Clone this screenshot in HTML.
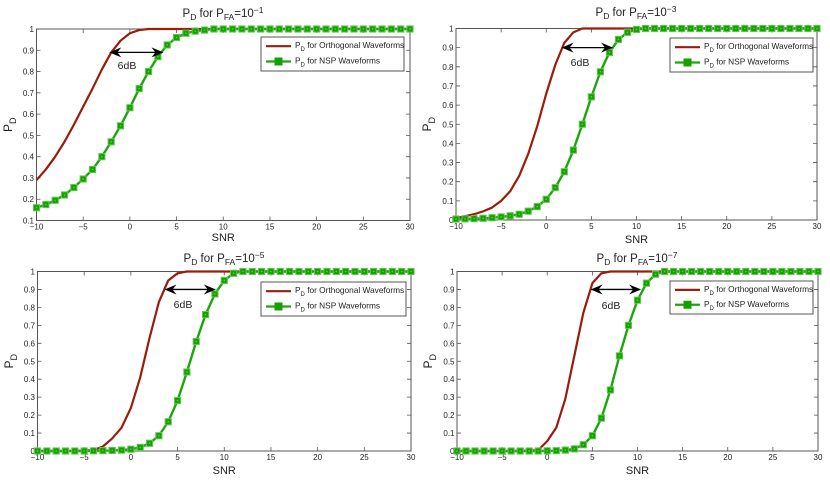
<!DOCTYPE html>
<html>
<head>
<meta charset="utf-8">
<title>PD curves</title>
<style>
html,body{margin:0;padding:0;background:#fff;width:830px;height:482px;overflow:hidden}
svg{display:block}
text{font-family:"Liberation Sans",sans-serif;fill:#222}
</style>
</head>
<body>
<svg id="chart" xmlns="http://www.w3.org/2000/svg" width="830" height="482" viewBox="0 0 830 482">
<defs><filter id="soft" x="-5%" y="-5%" width="110%" height="110%"><feGaussianBlur stdDeviation="0.35"/></filter></defs>
<g id="root" filter="url(#soft)"></g>
</svg>
<script>
const snr = [-10,-9,-8,-7,-6,-5,-4,-3,-2,-1,0,1,2,3,4,5,6,7,8,9,10,11,12,13,14,15,16,17,18,19,20,21,22,23,24,25,26,27,28,29,30];
const xTickLabels = [-10,-5,0,5,10,15,20,25,30];
const yTicksFrom01 = [0.1,0.2,0.3,0.4,0.5,0.6,0.7,0.8,0.9,1];
const yTicksFrom0 = [0,0.1,0.2,0.3,0.4,0.5,0.6,0.7,0.8,0.9,1];

const orth1 = [.29,.34,.40,.47,.55,.635,.72,.81,.89,.945,.98,.995,1,1,1,1,1,1,1,1,1,1,1,1,1,1,1,1,1,1,1,1,1,1,1,1,1,1,1,1,1];
const nsp1 = [.16,.175,.195,.22,.255,.295,.34,.40,.47,.545,.63,.72,.80,.87,.925,.96,.98,.99,.995,1,1,1,1,1,1,1,1,1,1,1,1,1,1,1,1,1,1,1,1,1,1];
const orth2 = [.01,.02,.03,.045,.065,.10,.15,.23,.345,.49,.66,.81,.925,.98,1,1,1,1,1,1,1,1,1,1,1,1,1,1,1,1,1,1,1,1,1,1,1,1,1,1,1];
const nsp2 = [.005,.006,.007,.009,.012,.016,.022,.03,.046,.07,.108,.169,.252,.365,.50,.643,.774,.875,.943,.98,.995,1,1,1,1,1,1,1,1,1,1,1,1,1,1,1,1,1,1,1,1];
const orth3 = [0,0,0,0,0,.002,.005,.025,.07,.13,.24,.41,.63,.83,.95,.99,1,1,1,1,1,1,1,1,1,1,1,1,1,1,1,1,1,1,1,1,1,1,1,1,1];
const nsp3 = [0,0,0,0,0,0,.001,.002,.003,.005,.01,.02,.043,.085,.163,.281,.44,.61,.76,.875,.95,.99,1,1,1,1,1,1,1,1,1,1,1,1,1,1,1,1,1,1,1];
const orth4 = [0,0,0,0,0,0,0,0,.002,.005,.055,.13,.29,.53,.77,.935,.99,1,1,1,1,1,1,1,1,1,1,1,1,1,1,1,1,1,1,1,1,1,1,1,1];
const nsp4 = [0,0,0,0,0,0,0,0,0,0,.001,.002,.005,.012,.035,.085,.183,.34,.53,.70,.84,.935,.985,1,1,1,1,1,1,1,1,1,1,1,1,1,1,1,1,1,1];

const arrowFrom = [-2.2,1.7,3.6,4.8];
const arrowTo = [3.6,7.4,9.1,10.4];
const arrowLevel = [.89,.90,.90,.90];
const exponents = ["−1","−3","−5","−7"];
const orthSeries = [orth1,orth2,orth3,orth4];
const nspSeries = [nsp1,nsp2,nsp3,nsp4];

const frames = [
  {l:36.5,r:410,t:29,b:220.5,ymin:.1,yt:yTicksFrom01,tx:223,ty:17,lg:[261,37,143,34],ylx:12,xly:241,dl:[127,69]},
  {l:456,r:817,t:28.5,b:220,ymin:0,yt:yTicksFrom0,tx:636,ty:16,lg:[670,38,143,34],ylx:431,xly:243,dl:[580,66]},
  {l:37.5,r:411,t:271.5,b:451,ymin:0,yt:yTicksFrom0,tx:224,ty:262,lg:[261,282,145,34],ylx:13,xly:474,dl:[183,308]},
  {l:457,r:818,t:271.5,b:451,ymin:0,yt:yTicksFrom0,tx:637,ty:262,lg:[670,281,143,33],ylx:432,xly:474,dl:[611,309]}
];

const NS = "http://www.w3.org/2000/svg";
const root = document.getElementById("root");
function mk(parent, tag, attrs){
  const e = document.createElementNS(NS, tag);
  for (const k in attrs) e.setAttribute(k, attrs[k]);
  parent.appendChild(e);
  return e;
}
function span(parent, str, size, dy){
  const t = mk(parent, "tspan", dy ? {dy:dy} : {});
  if (size) t.setAttribute("font-size", size);
  t.textContent = str;
  return t;
}
function pdText(parent, big, small, drop){
  span(parent, "P", big, 0);
  span(parent, "D", small, drop);
}
const xDomain = [-10, 30];

frames.forEach(function(f, i){
  const sx = v => f.l + (v - xDomain[0]) / (xDomain[1] - xDomain[0]) * (f.r - f.l);
  const sy = v => f.b - (v - f.ymin) / (1 - f.ymin) * (f.b - f.t);
  const g = mk(root, "g", {});
  
  

  const box = mk(g, "rect", {x:f.l, y:f.t, width:f.r-f.l, height:f.b-f.t, fill:"#fff", stroke:"#555", "stroke-width":1});
  
  

  xTickLabels.forEach(function(v){
    const x = sx(v);
    const tick = mk(g, "path", {d:"M"+x+" "+f.b+"v-4M"+x+" "+f.t+"v4", stroke:"#555", "stroke-width":.8, fill:"none"});
    
    
    const lab = mk(g, "text", {x:x, y:f.b+9, "font-size":8, "text-anchor":"middle"});
    
    
    lab.textContent = v < 0 ? "−" + (-v) : String(v);
  });
  f.yt.forEach(function(v){
    const y = sy(v);
    const tick = mk(g, "path", {d:"M"+f.l+" "+y+"h4M"+f.r+" "+y+"h-4", stroke:"#555", "stroke-width":.8, fill:"none"});
    
    
    const lab = mk(g, "text", {x:f.l-2.5, y:y+3, "font-size":8, "text-anchor":"end"});
    
    
    lab.textContent = String(v);
  });

  const orthPts = orthSeries[i].map((v,k) => sx(snr[k]).toFixed(2)+","+sy(v).toFixed(2)).join(" ");
  const orthLine = mk(g, "polyline", {points:orthPts, fill:"none", stroke:"#991a0a", "stroke-width":2.2, "stroke-linejoin":"round"});
  
  

  const nspPts = nspSeries[i].map((v,k) => sx(snr[k]).toFixed(2)+","+sy(v).toFixed(2)).join(" ");
  const nspLine = mk(g, "polyline", {points:nspPts, fill:"none", stroke:"#1ea60c", "stroke-width":2.4, "stroke-linejoin":"round"});
  
  

  nspSeries[i].forEach(function(v,k){
    const m = mk(g, "rect", {x:sx(snr[k])-3.1, y:sy(v)-3.1, width:6.2, height:6.2, fill:"#14a000", stroke:"#62c852", "stroke-width":1});
    
    
    const c = mk(g, "rect", {x:sx(snr[k])-.7, y:sy(v)-.7, width:1.4, height:1.4, fill:"#66c858"});
    
    
  });

  const ay = sy(arrowLevel[i]);
  const ax0 = sx(arrowFrom[i]);
  const ax1 = sx(arrowTo[i]);
  const arrow = mk(g, "g", {});
  
  
  mk(arrow, "line", {x1:ax0+3, y1:ay, x2:ax1-3, y2:ay, stroke:"#000", "stroke-width":1.3});
  mk(arrow, "path", {d:"M"+ax0+" "+ay+"l12 -5l-4 5l4 5z", fill:"#000"});
  mk(arrow, "path", {d:"M"+ax1+" "+ay+"l-12 -5l4 5l-4 5z", fill:"#000"});

  const dl = mk(g, "text", {x:f.dl[0], y:f.dl[1], "font-size":10.5, "text-anchor":"middle"});
  
  
  dl.textContent = "6dB";

  const title = mk(g, "text", {x:f.tx, y:f.ty, "font-size":11.5, "text-anchor":"middle"});
  
  
  span(title, "P", 11.5, 0);
  span(title, "D", 8.5, 3);
  span(title, " for P", 11.5, -3);
  span(title, "FA", 8.5, 3);
  span(title, "=10", 11.5, -3);
  span(title, exponents[i], 8.5, -4);

  const xl = mk(g, "text", {x:(f.l+f.r)/2, y:f.xly, "font-size":11, "text-anchor":"middle"});
  
  
  xl.textContent = "SNR";

  const cy = (f.t+f.b)/2;
  const yl = mk(g, "text", {x:f.ylx, y:cy, "font-size":12, "text-anchor":"middle", transform:"rotate(-90 "+f.ylx+" "+cy+")"});
  
  
  pdText(yl, 12, 9, 4);

  const lg = mk(g, "g", {});
  
  
  const lx = f.lg[0], ly = f.lg[1], lw = f.lg[2], lh = f.lg[3];
  mk(lg, "rect", {x:lx, y:ly, width:lw, height:lh, fill:"#fff", stroke:"#555", "stroke-width":1});
  const row1 = ly + lh * .27, row2 = ly + lh * .72;
  const e1 = mk(lg, "line", {x1:lx+5, y1:row1, x2:lx+30, y2:row1, stroke:"#991a0a", "stroke-width":2.2});
  
  
  const e2 = mk(lg, "line", {x1:lx+5, y1:row2, x2:lx+30, y2:row2, stroke:"#1ea60c", "stroke-width":2.2});
  
  
  const e3 = mk(lg, "rect", {x:lx+13.5, y:row2-4, width:8, height:8, fill:"#16a000"});
  
  
  const t1 = mk(lg, "text", {x:lx+34, y:row1+2, "font-size":8.3});
  
  
  span(t1, "P", 8.3, 0);
  span(t1, "D", 6, 3);
  span(t1, " for Orthogonal Waveforms", 8.3, -3);
  const t2 = mk(lg, "text", {x:lx+34, y:row2+2, "font-size":8.3});
  
  
  span(t2, "P", 8.3, 0);
  span(t2, "D", 6, 3);
  span(t2, " for NSP Waveforms", 8.3, -3);
});
</script>
</body>
</html>
